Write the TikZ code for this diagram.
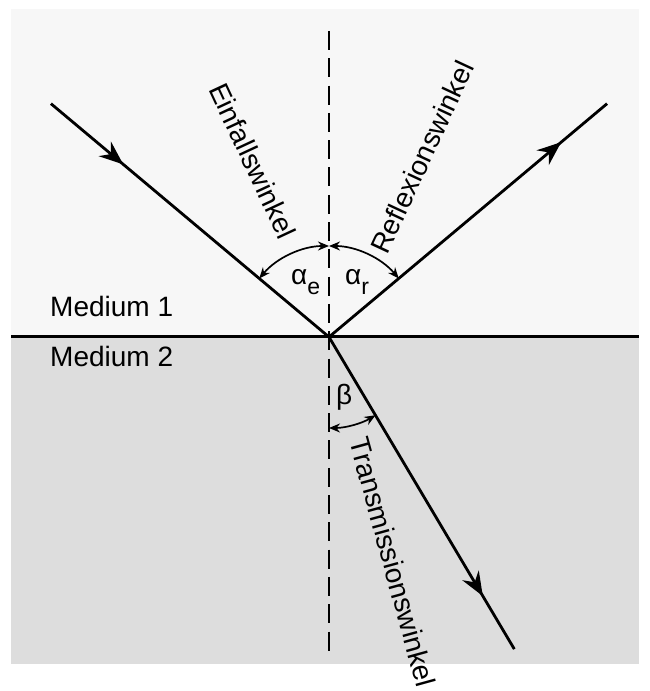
\documentclass[tikz,border=0pt]{standalone}
\usepackage{fontspec}
\setmainfont{Liberation Sans}
\usetikzlibrary{arrows.meta,decorations.markings}
\definecolor{topbg}{HTML}{F7F7F7}
\definecolor{botbg}{HTML}{DDDDDD}
\begin{document}
\begin{tikzpicture}[x=1pt,y=1pt,
  lbl/.style={font=\fontsize{28}{32}\selectfont, inner sep=0pt},
  ray/.style={line width=2.8pt},
  normalline/.style={line width=2pt, dash pattern=on 19pt off 8.3pt},
  anglearc/.style={line width=1.7pt, {Stealth[length=11pt,width=9pt]}-{Stealth[length=11pt,width=9pt]}},
  midarrow/.style={postaction={decorate}, decoration={markings,
     mark=at position #1 with {\arrow{Stealth[length=24pt,width=19pt,inset=8pt]}}}}]
\useasboundingbox (0,0) rectangle (649,691);
% media
\fill[topbg] (11,354) rectangle (639,682);
\fill[botbg] (11,27) rectangle (639,354);
% key points
\coordinate (O) at (329,354);
\coordinate (L) at (11,354);
\coordinate (R) at (639,354);
\coordinate (N1) at (329,660);
\coordinate (N2) at (329,40.3);
\path (O) ++(140:363) coordinate (I);
\path (O) ++(40:363) coordinate (F);
\path (O) ++(-59.3:363) coordinate (T);
% normal and interface
\draw[normalline] (N1) -- (N2);
\draw[line width=3pt] (L) -- (R);
% rays
\draw[ray, midarrow=0.26] (I) -- (O);
\draw[ray, midarrow=0.835] (O) -- (F);
\draw[ray, midarrow=0.83] (O) -- (T);
% angle arcs
\draw[anglearc] (O) ++(90:91) arc[start angle=90, end angle=140, radius=91];
\draw[anglearc] (O) ++(90:91) arc[start angle=90, end angle=40, radius=91];
\draw[anglearc] (O) ++(270:91) arc[start angle=270, end angle=300.7, radius=91];
% angle labels
\node[lbl, anchor=base west] (ae) at (291,406) {α\raisebox{-10pt}{\fontsize{23}{26}\selectfont e}};
\node[lbl, anchor=base west] (ar) at (345,406) {α\raisebox{-10pt}{\fontsize{23}{26}\selectfont r}};
\node[lbl, anchor=base west] (b) at (336,286) {β};
% rotated labels
\node[lbl, rotate=-65] (ein) at (253,530) {Einfallswinkel};
\node[lbl, rotate=65] (ref) at (422,534) {Reflexionswinkel};
\node[lbl, rotate=-74.6] (tra) at (393,129) {Transmissionswinkel};
% media labels
\node[lbl, anchor=base west] (m1) at (50,374) {Medium 1};
\node[lbl, anchor=base west] (m2) at (50,324) {Medium 2};
\end{tikzpicture}
\end{document}
